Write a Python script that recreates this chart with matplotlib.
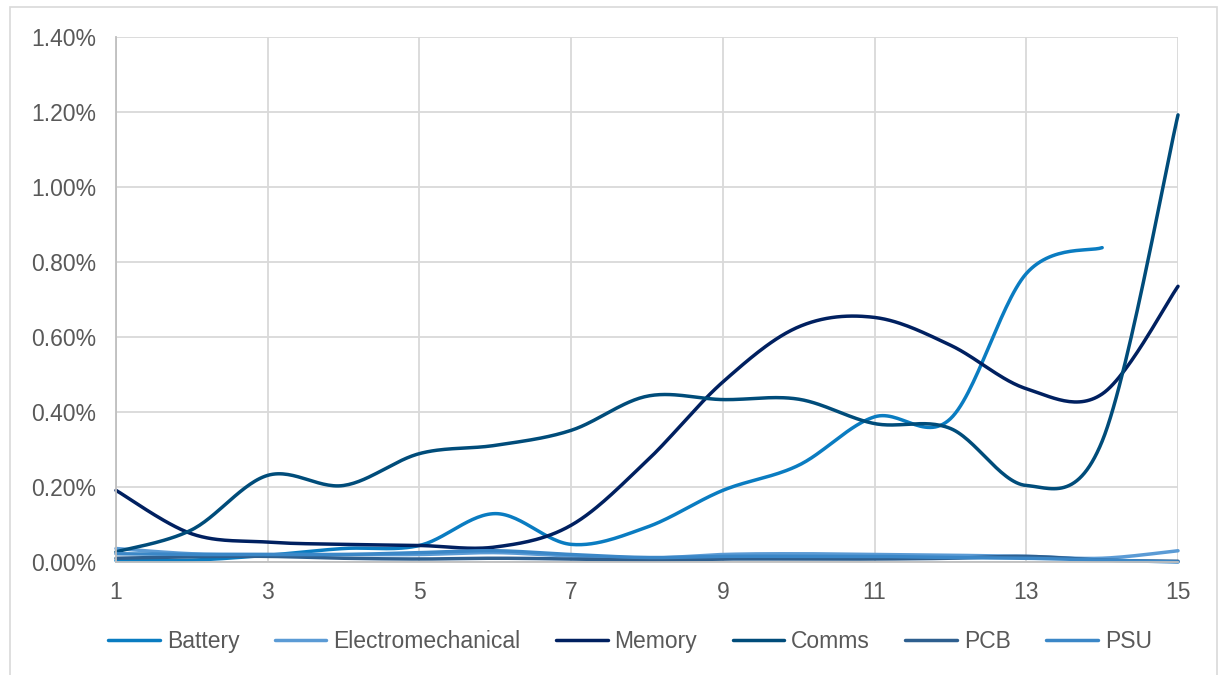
import numpy as np
import matplotlib.pyplot as plt
from matplotlib.patches import Rectangle
from matplotlib.ticker import FuncFormatter

plt.rcParams['font.family'] = ['Liberation Sans', 'DejaVu Sans']

# share of failures by category (percent), periods 1..15
periods = np.arange(1, 16)
battery = [0.004, 0.005, 0.018, 0.036, 0.044, 0.129, 0.047, 0.093, 0.191, 0.258,
           0.387, 0.382, 0.769, 0.838]
electromechanical = [0.036, 0.022, 0.02, 0.02, 0.02, 0.025, 0.016, 0.01, 0.02, 0.022,
                     0.02, 0.018, 0.015, 0.01, 0.03]
memory = [0.191, 0.075, 0.053, 0.047, 0.044, 0.04, 0.098, 0.27, 0.48, 0.627,
          0.652, 0.578, 0.462, 0.448, 0.735]
comms = [0.027, 0.086, 0.231, 0.204, 0.289, 0.311, 0.351, 0.442, 0.433, 0.434,
         0.369, 0.356, 0.204, 0.322, 1.192]
pcb = [0.01, 0.014, 0.015, 0.01, 0.008, 0.01, 0.008, 0.005, 0.008, 0.008,
       0.008, 0.01, 0.015, 0.005, 0.002]
psu = [0.022, 0.02, 0.02, 0.02, 0.025, 0.03, 0.02, 0.012, 0.015, 0.015,
       0.015, 0.012, 0.01, 0.005, 0.0]

series = [
    ('Battery', battery, '#0A7CC1'),
    ('Electromechanical', electromechanical, '#5B9BD5'),
    ('Memory', memory, '#002060'),
    ('Comms', comms, '#004C7A'),
    ('PCB', pcb, '#2E5F8F'),
    ('PSU', psu, '#3B87C7'),
]


def smooth(x, y, n=30):
    """Catmull-Rom style smoothing like spreadsheet 'smoothed line'."""
    x = np.asarray(x, float)
    y = np.asarray(y, float)
    xs, ys = [], []
    for i in range(len(x) - 1):
        p0 = i - 1 if i > 0 else i
        p3 = i + 2 if i + 2 < len(x) else i + 1
        # bezier control points
        c1x = x[i] + (x[i + 1] - x[p0]) / 6
        c1y = y[i] + (y[i + 1] - y[p0]) / 6
        c2x = x[i + 1] - (x[p3] - x[i]) / 6
        c2y = y[i + 1] - (y[p3] - y[i]) / 6
        t = np.linspace(0, 1, n, endpoint=(i == len(x) - 2))
        b0 = (1 - t) ** 3
        b1 = 3 * (1 - t) ** 2 * t
        b2 = 3 * (1 - t) * t ** 2
        b3 = t ** 3
        xs.append(b0 * x[i] + b1 * c1x + b2 * c2x + b3 * x[i + 1])
        ys.append(b0 * y[i] + b1 * c1y + b2 * c2y + b3 * y[i + 1])
    return np.concatenate(xs), np.concatenate(ys)


fig = plt.figure(figsize=(12.21, 6.75), dpi=100)
ax = fig.add_axes([0.095, 0.1674, 0.8698, 0.778])

for name, vals, color in series:
    sx, sy = smooth(periods[:len(vals)], vals)
    ax.plot(sx, sy, color=color, lw=2.5, label=name, solid_capstyle='round', clip_on=False)

ax.set_xlim(1, 15)
ax.set_ylim(0, 1.4)
ax.set_xticks(np.arange(1, 16, 2))
ax.set_yticks(np.arange(0, 1.41, 0.2))
ax.yaxis.set_major_formatter(FuncFormatter(lambda v, _: f'{v:.2f}%'))
ax.tick_params(length=0, labelsize=16.5, labelcolor='#595959')
ax.tick_params(axis='x', pad=14)
ax.tick_params(axis='y', pad=14)
ax.grid(True, color='#D9D9D9', lw=1.3)
ax.set_axisbelow(True)
for side in ['top', 'right']:
    ax.spines[side].set_visible(False)
for side in ['left', 'bottom']:
    ax.spines[side].set_color('#BFBFBF')
    ax.spines[side].set_linewidth(1.3)

ax.legend(loc='center', bbox_to_anchor=(0.484, -0.152), ncol=6, frameon=False,
          fontsize=16.5, handlelength=2.25, handletextpad=0.3, columnspacing=1.55,
          labelcolor='#595959')

fig.patches.append(Rectangle((10 / 1221, -0.01), 1207 / 1221, 1 - 7 / 675 + 0.01,
                             transform=fig.transFigure, fill=False,
                             edgecolor='#D9D9D9', lw=1.2))

fig.savefig('out.png', dpi=100)
